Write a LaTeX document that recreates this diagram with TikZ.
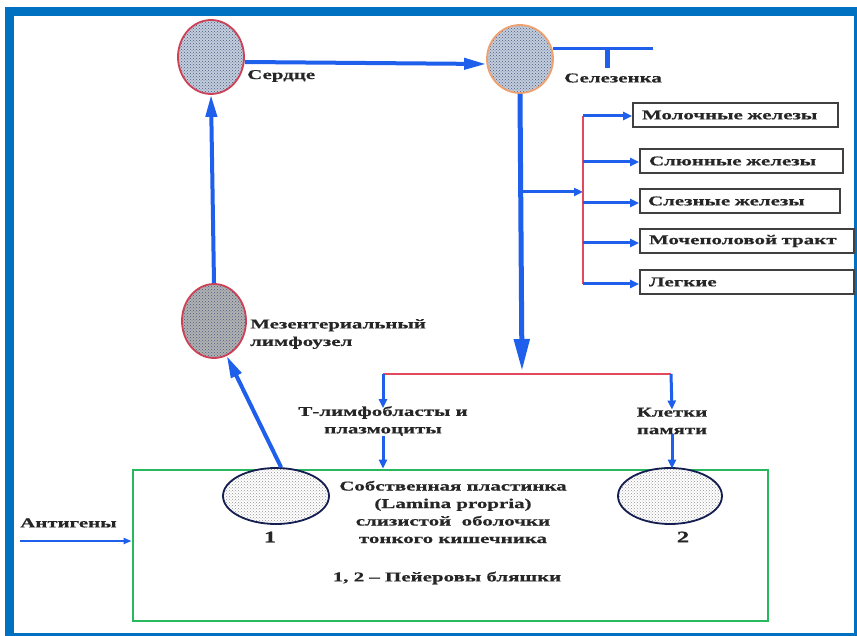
\documentclass[tikz,border=0pt]{standalone}
\usepackage{fontspec}
\setmainfont{Liberation Serif}
\newfontfamily\wf[FakeStretch=1.55,FakeBold=0.6]{Liberation Serif}
\usetikzlibrary{patterns,arrows.meta,shapes.geometric}
\definecolor{frameblue}{RGB}{0,112,192}
\definecolor{arrblue}{RGB}{30,95,235}
\definecolor{lred}{RGB}{228,72,95}
\definecolor{gbox}{RGB}{40,185,95}
\definecolor{dotc}{RGB}{70,90,130}
\definecolor{orgfill}{RGB}{195,205,220}
\tikzset{
  organ/.style={ellipse, inner sep=0pt, line width=1.8pt,
     preaction={fill=orgfill}, pattern=crosshatch dots, pattern color=dotc},
  patch/.style={ellipse, inner sep=0pt, line width=1.8pt, draw={rgb,255:red,20;green,30;blue,80},
     preaction={fill=white}, pattern=crosshatch dots, pattern color=gray!85},
  lab/.style={font=\wf\bfseries\fontsize{13.5}{17.5}\selectfont, text=black!85, inner sep=0pt},
  orgbox/.style={draw=black!75, line width=1.6pt, inner sep=0pt, minimum height=24pt,
     font=\wf\bfseries\fontsize{13.5}{15}\selectfont, text=black!85, align=left},
  bigarr/.style={arrblue, line width=5pt, -{Triangle[length=32pt,width=15pt]}},
  midarr/.style={arrblue, line width=4pt, -{Triangle[length=22pt,width=11pt]}},
  smallarr/.style={arrblue, line width=3pt, -{Triangle[length=9pt,width=8pt]}},
  thinarr/.style={arrblue, line width=2pt, -{Triangle[length=8pt,width=6pt]}},
  redline/.style={lred, line width=2pt},
}
\begin{document}
\begin{tikzpicture}[x=1pt,y=-1pt]
\fill[frameblue] (5,7) rectangle (857,636);
\fill[white] (14,16) rectangle (854,633);
\useasboundingbox (0,0) rectangle (857,636);

% organs
\node[organ, draw=lred!90!black, minimum width=66pt, minimum height=74pt] (heart) at (211,57) {};
\node[organ, draw={rgb,255:red,240;green,160;blue,110}, minimum width=66pt, minimum height=68pt] (spleen) at (520,59) {};
\node[organ, draw=lred!90!black, minimum width=64pt, minimum height=74pt, preaction={fill=gray!60}] (mes) at (214,321) {};

\node[lab, anchor=west] (heartlab) at (247,76) {Сердце};
\node[lab, anchor=west] (spleenlab) at (564,78) {Селезенка};
\node[lab, anchor=west, align=left] (meslab) at (250,334) {Мезентериальный\\лимфоузел};

% heart -> spleen
\draw[midarr] ([yshift=-5pt]heart.east) -- ([yshift=-5pt]spleen.west);

% spleen T-shape
\coordinate (t0) at (553,49);
\coordinate (t1) at (653,49);
\coordinate (tm) at (607,49);
\coordinate (tb) at (607,68);
\draw[arrblue, line width=3pt] (t0) -- (t1);
\draw[arrblue, line width=5pt] (tm) -- (tb);

% boxes
\node[orgbox, minimum width=205pt, text width=187pt] (b1) at (735.5,115) {Молочные железы};
\node[orgbox, minimum width=203pt, text width=185pt] (b2) at (741.5,161) {Слюнные железы};
\node[orgbox, minimum width=200pt, text width=184pt] (b3) at (740,201) {Слезные железы};
\node[orgbox, minimum width=214pt, text width=196pt] (b4) at (747,241) {Мочеполовой тракт};
\node[orgbox, minimum width=214pt, text width=196pt] (b5) at (747,282) {Легкие};

% spleen vertical and branch
\coordinate (split) at (522,371);
\coordinate (br) at (522,192);
\coordinate (rj) at (583,192);
\draw[bigarr] (spleen.south) -- (split);
\draw[smallarr] (br) -- (rj);
\coordinate (r1) at (583,116);
\coordinate (r5) at (583,284);
\draw[redline] (r1) -- (r5);
\draw[smallarr] (r1) -- (b1.west |- r1);
\draw[smallarr] (583,162) -- (b2.west |- 0,162);
\draw[smallarr] (583,203) -- (b3.west |- 0,203);
\draw[smallarr] (583,243) -- (b4.west |- 0,243);
\draw[smallarr] (583,284) -- (b5.west |- 0,284);

% mesenteric -> heart
\draw[midarr] (mes.north) -- (heart.south);

% green box
\node[draw=gbox, line width=2.8pt, minimum width=635pt, minimum height=151pt, inner sep=0pt] (gut) at (450.5,545.5) {};
\node[patch, minimum width=106pt, minimum height=56pt] (p1) at (276,496) {};
\node[patch, minimum width=104pt, minimum height=56pt] (p2) at (670,496) {};
\draw[midarr] (p1.80) -- (mes.-70);

% split line
\coordinate (sl) at (383,374);
\coordinate (sr) at (671,374);
\draw[redline] (sl) -- (sr);
\node[lab, align=center] (tcells) at (383,421) {Т-лимфобласты и\\плазмоциты};
\node[lab, align=center] (mem) at (672,421) {Клетки\\памяти};
\draw[smallarr] (sl) -- ([yshift=-2pt]tcells.north);
\draw[smallarr] (sr) -- ([yshift=-2pt]mem.north);
\draw[smallarr] (tcells.south) -- (tcells.south |- gut.north);
\draw[smallarr] (mem.south) -- (mem.south |- gut.north);

% gut texts
\node[lab, align=center] (lp) at (453,512) {Собственная пластинка\\(Lamina propria)\\слизистой\ \ оболочки\\тонкого кишечника};
\node[lab, font=\wf\bfseries\fontsize{16}{18}\selectfont] (n1) at (270,537) {1};
\node[lab, font=\wf\bfseries\fontsize{16}{18}\selectfont] (n2) at (683,537) {2};
\node[lab] (pey) at (447,578) {1, 2 – Пейеровы бляшки};

% antigens
\node[lab, anchor=west] (ant) at (20,523) {Антигены};
\coordinate (a0) at (20,541);
\draw[thinarr] (a0) -- (gut.west |- a0);
\end{tikzpicture}
\end{document}
